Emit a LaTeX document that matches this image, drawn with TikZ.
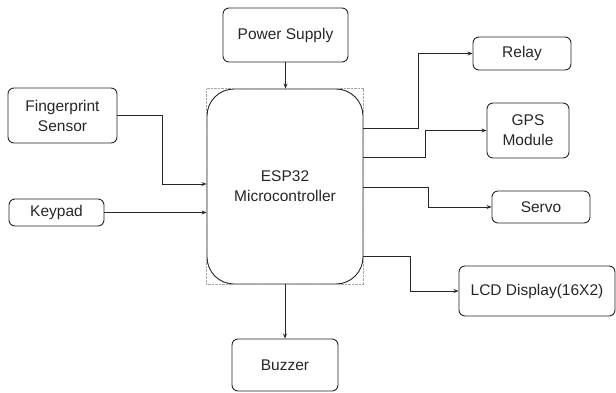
\documentclass[tikz,border=0pt]{standalone}
\usepackage{fontspec}
\setmainfont{Liberation Sans}
\usetikzlibrary{arrows.meta}
\begin{document}
\begin{tikzpicture}[x=1pt,y=-1pt,
  box/.style={draw=black!85, line width=0.9pt, rounded corners=6pt, align=center,
    inner sep=0pt, font=\fontsize{15.5}{20}\selectfont, text=black!85},
  arr/.style={draw=black!85, line width=0.9pt, -{Stealth[length=5pt,width=4pt]}}]
\useasboundingbox (0,0) rectangle (616,392);
\node[box, minimum width=125pt, minimum height=54pt] (ps) at (285.5,35) {Power Supply};
\node[box, rounded corners=27pt, minimum width=156pt, minimum height=195pt] (esp) at (285,186.5) {ESP32\\Microcontroller};
\draw[gray!70, densely dotted, line width=0.4pt] (esp.south west) rectangle (esp.north east);
\node[box, minimum width=109pt, minimum height=55pt] (fp) at (62.5,115.5) {Fingerprint\\Sensor};
\node[box, minimum width=95pt, minimum height=27pt] (kp) at (56.5,212.5) {Keypad};
\node[box, minimum width=98pt, minimum height=33pt] (relay) at (522,53.5) {Relay};
\node[box, minimum width=82pt, minimum height=55pt] (gps) at (528,130.5) {GPS\\Module};
\node[box, minimum width=98pt, minimum height=32pt] (servo) at (541,207) {Servo};
\node[box, minimum width=156pt, minimum height=50pt] (lcd) at (537,291) {LCD Display(16X2)};
\node[box, minimum width=106pt, minimum height=52pt] (buz) at (285,365) {Buzzer};
\draw[arr] (ps.south) -- (ps.south |- esp.north);
\draw[arr] (fp.east) -- (162,115.5) |- (esp.west |- 0,184);
\draw[arr] (kp.east) -- (esp.west |- kp.east);
\draw[arr] (esp.east |- 0,128) -- (418,128) |- (relay.west);
\draw[arr] (esp.east |- 0,157) -- (425,157) |- (gps.west);
\draw[arr] (esp.east |- 0,187) -- (428,187) |- (servo.west);
\draw[arr] (esp.east |- 0,256) -- (410,256) |- (lcd.west);
\draw[arr] (esp.south) -- (buz.north);
\end{tikzpicture}
\end{document}
